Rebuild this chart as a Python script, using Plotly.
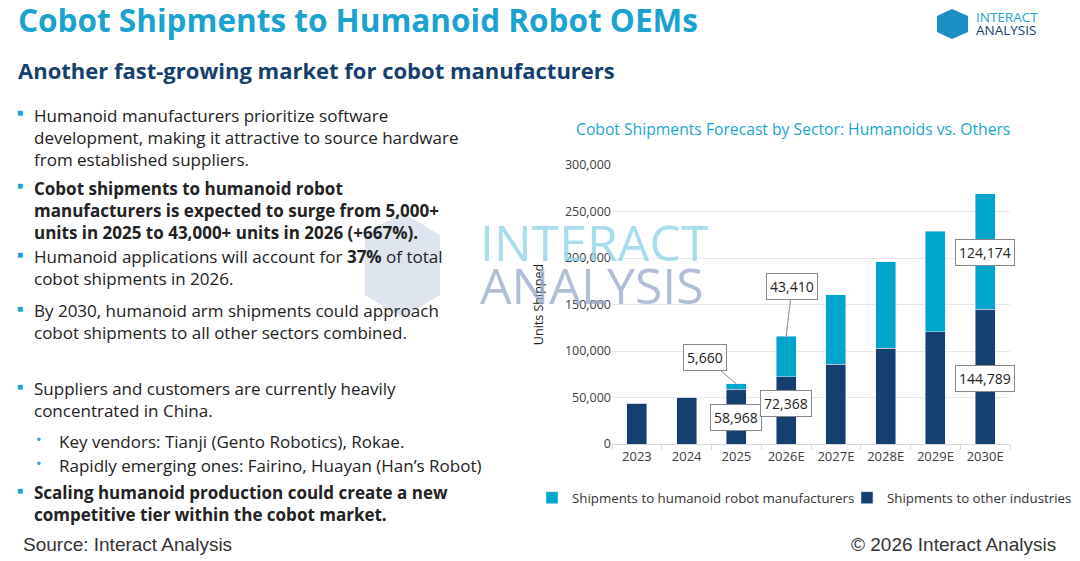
import plotly.graph_objects as go

years = ["2023", "2024", "2025", "2026E", "2027E", "2028E", "2029E", "2030E"]
other = [44000, 50500, 58968, 72368, 86000, 103000, 120500, 144789]
humanoid = [0, 0, 5660, 43410, 74500, 93000, 108500, 124174]
y_ticks = [0, 50000, 100000, 150000, 200000, 250000, 300000]

CYAN = "#00a5cb"
NAVY = "#143f6e"
FONT = "Open Sans"


# place things by target pixel (page body adds an 8px margin)
def X(px):
    return (px - 8) / 1080


def Y(py):
    return 1 - (py - 8) / 561


pos = list(range(len(years)))

fig = go.Figure()
fig.add_trace(go.Bar(x=pos, y=other, name="Shipments to other industries",
                     marker=dict(color=NAVY), width=0.4))
fig.add_trace(go.Bar(x=pos, y=humanoid, name="Shipments to humanoid robot manufacturers",
                     marker=dict(color=CYAN), width=0.4))

fig.update_layout(
    barmode="stack",
    width=1080, height=561,
    paper_bgcolor="white", plot_bgcolor="white",
    font=dict(family=FONT, size=12, color="#333"),
    margin=dict(l=0, r=0, t=0, b=0, autoexpand=False),
    xaxis=dict(domain=[X(612), X(1010)], range=[-0.5, 7.5], tickvals=pos, ticktext=years,
               showline=True, linecolor="#d9d9d9", showgrid=False, zeroline=False,
               tickfont=dict(size=13, color="#404040")),
    yaxis=dict(domain=[Y(444), Y(165)], range=[0, 300000], tickvals=y_ticks,
               tickformat=",", gridcolor="#e8e8e8", zeroline=False,
               tickfont=dict(size=12.5, color="#404040"),
               title=dict(text="Units Shipped", font=dict(size=12.5, color="#222"), standoff=18)),
    legend=dict(orientation="h", x=X(532), xanchor="left", y=Y(498), yanchor="middle",
                traceorder="reversed", entrywidth=270, itemwidth=30,
                font=dict(size=13.3, color="#333")),
    showlegend=True,
)

# category separator ticks on the x axis
fig.update_xaxes(minor=dict(tickvals=[p + 0.5 for p in pos[:-1]] + [-0.5, 7.5],
                            ticks="outside", ticklen=5, tickcolor="#d9d9d9"))


# value callouts
def callout(i, y, s, ax, ay, arrow=True):
    fig.add_annotation(x=i, y=y, text=s, showarrow=True, arrowhead=0,
                       arrowwidth=1, arrowcolor="#888" if arrow else "rgba(0,0,0,0)",
                       ax=ax, ay=ay, bgcolor="white", bordercolor="#888", borderpad=3,
                       font=dict(size=14, color="#222"))


callout(2, other[2] + humanoid[2], f"{humanoid[2]:,}", -31, -26)
callout(2, other[2], f"{other[2]:,}", 0, 28, arrow=False)
callout(3, other[3] + humanoid[3], f"{humanoid[3]:,}", 6, -50)
callout(3, other[3], f"{other[3]:,}", 0, 27, arrow=False)
callout(7, other[7] + humanoid[7] * 0.49, f"{humanoid[7]:,}", 0, 0, arrow=False)
callout(7, other[7] * 0.49, f"{other[7]:,}", 0, 0, arrow=False)


def text(x, y, s, size, color, xanchor="left", family=None, align="left"):
    f = dict(size=size, color=color)
    if family:
        f["family"] = family
    fig.add_annotation(xref="paper", yref="paper", x=x, y=y, xanchor=xanchor, yanchor="middle",
                       align=align, showarrow=False, text=s, font=f)


# chart title
text(X(793), Y(129), "Cobot Shipments Forecast by Sector: Humanoids vs. Others", 15.7, "#1aa6cf", "center")

# watermark
fig.add_shape(type="path", xref="paper", yref="paper", layer="above",
              path=f"M {X(365)} {Y(235)} L {X(402)} {Y(212)} L {X(440)} {Y(235)} "
                   f"L {X(440)} {Y(295)} L {X(402)} {Y(318)} L {X(365)} {Y(295)} Z",
              fillcolor="rgba(150,170,200,0.3)", line=dict(width=0))
text(X(478), Y(242), "INTERACT", 50, "rgba(140,210,230,0.75)")
text(X(478), Y(285), "ANALYSIS", 50, "rgba(150,170,200,0.75)")

# header
text(X(16), Y(20), "<b>Cobot Shipments to Humanoid Robot OEMs</b>", 31.5, "#1ba3d0")
text(X(16), Y(70), "<b>Another fast-growing market for cobot manufacturers</b>", 22, "#143f6e")

# logo
fig.add_shape(type="path", xref="paper", yref="paper",
              path=f"M {X(937)} {Y(16)} L {X(952)} {Y(9)} L {X(968)} {Y(16)} "
                   f"L {X(968)} {Y(32)} L {X(952)} {Y(39)} L {X(937)} {Y(32)} Z",
              fillcolor="#1b8fc4", line=dict(width=0))
text(X(974), Y(17), "INTERACT", 13.5, "#1ba3d0")
text(X(974), Y(30), "ANALYSIS", 13.5, "#143f6e")

# bullets: centre pixel, kind, text
bullets = [
    (137, "sq", "Humanoid manufacturers prioritize software<br>development, making it attractive to source hardware<br>from established suppliers."),
    (210, "sq", "<b>Cobot shipments to humanoid robot<br>manufacturers is expected to surge from 5,000+<br>units in 2025 to 43,000+ units in 2026 (+667%).</b>"),
    (267.5, "sq", "Humanoid applications will account for <b>37%</b> of total<br>cobot shipments in 2026."),
    (321.5, "sq", "By 2030, humanoid arm shipments could approach<br>cobot shipments to all other sectors combined."),
    (399.5, "sq", "Suppliers and customers are currently heavily<br>concentrated in China."),
    (441, "dot", "Key vendors: Tianji (Gento Robotics), Rokae."),
    (465, "dot", "Rapidly emerging ones: Fairino, Huayan (Han’s Robot)"),
    (503.5, "sq", "<b>Scaling humanoid production could create a new<br>competitive tier within the cobot market.</b>"),
]
for py, kind, s in bullets:
    tx = X(32) if kind == "sq" else X(57)
    mark = "■" if kind == "sq" else "•"
    mx = X(15) if kind == "sq" else X(34)
    text(tx, Y(py), s, 17, "#222")
    nlines = s.count("<br>") + 1
    text(mx, Y(py - (nlines - 1) * 11.3 - 2), mark, 10 if kind == "sq" else 15, "#1ba3d0")

# footer
text(X(21), Y(544), "Source: Interact Analysis", 19, "#333", family="Liberation Sans")
text(X(1058), Y(544), "© 2026 Interact Analysis", 19, "#333", xanchor="right", family="Liberation Sans")

fig.write_html("out.html")
